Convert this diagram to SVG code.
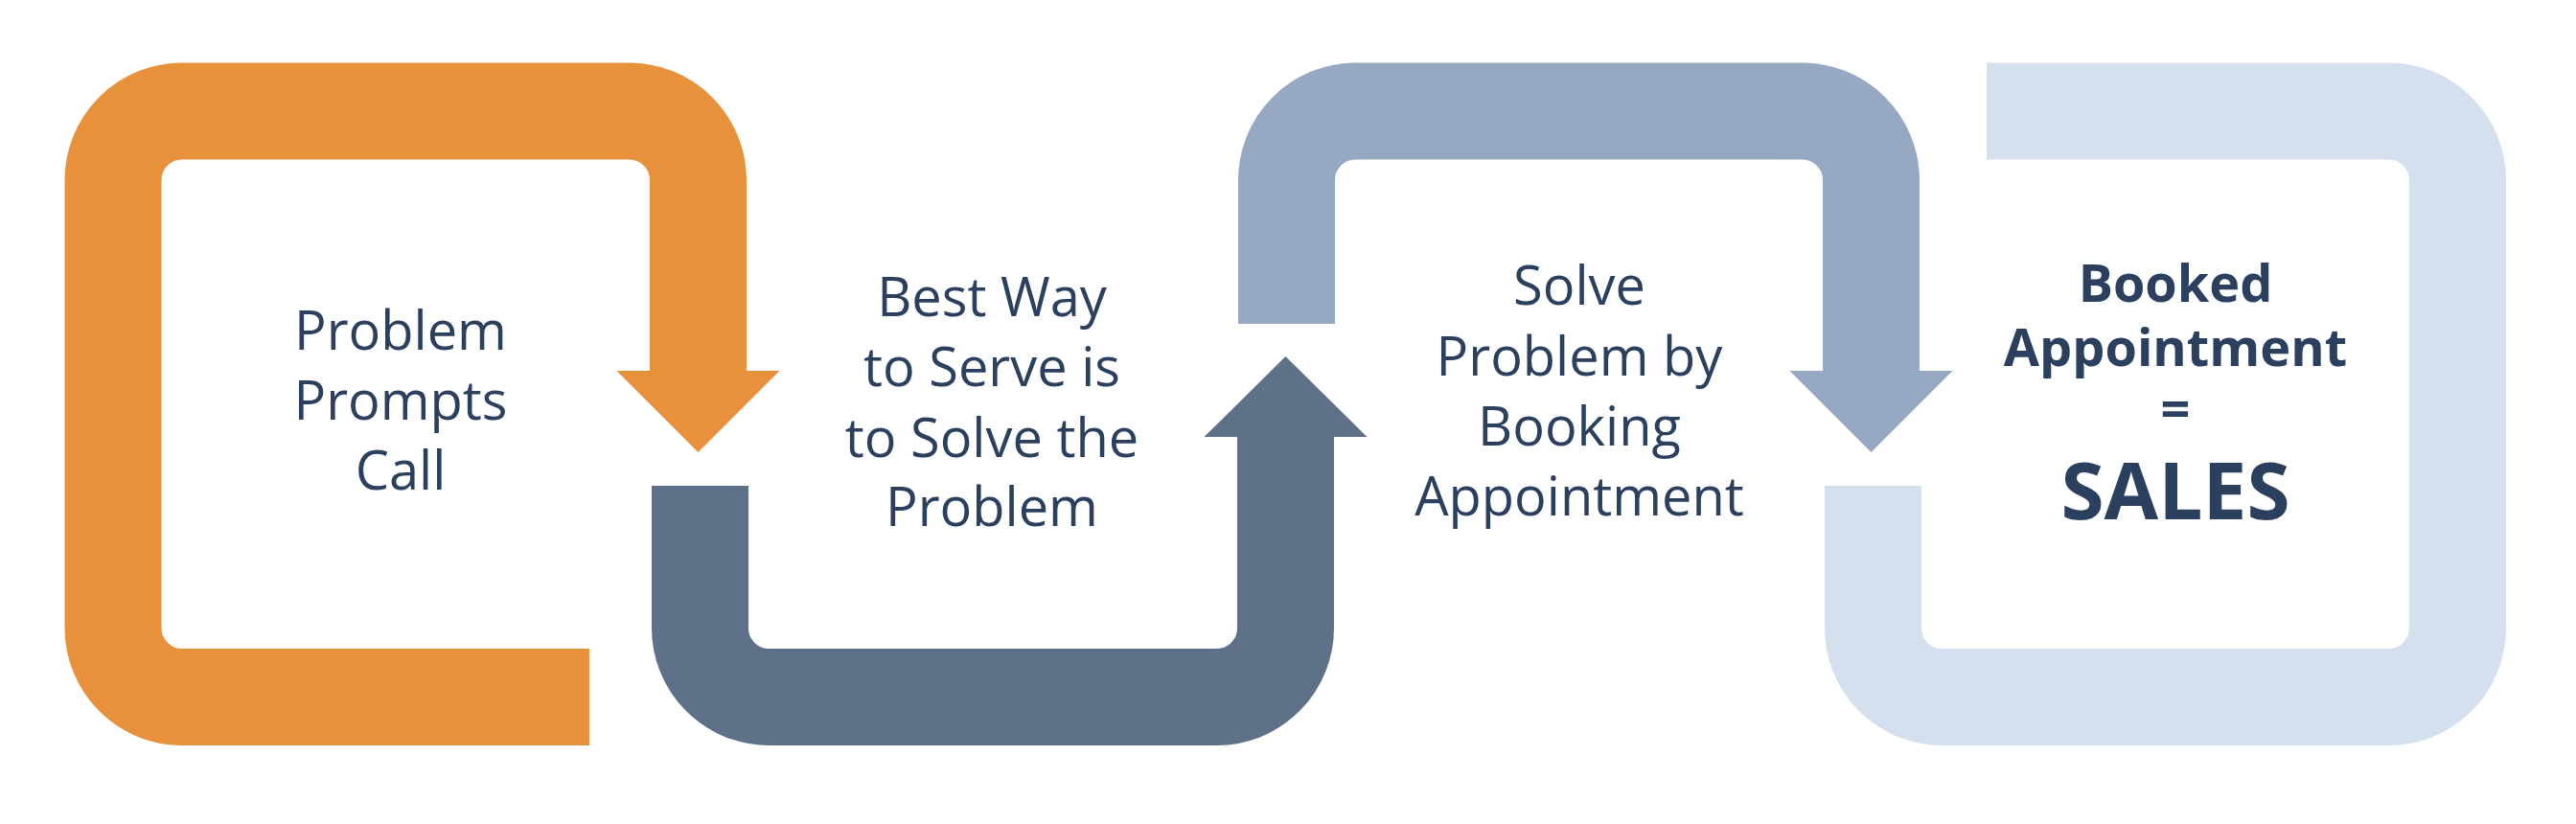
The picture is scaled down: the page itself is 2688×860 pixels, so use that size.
<svg xmlns="http://www.w3.org/2000/svg" width="2688" height="860" viewBox="0 0 2688 860">
<style>
.band{fill:none;stroke-width:101;stroke-linecap:butt;stroke-linejoin:miter}
.t{font-family:"Open Sans","Noto Sans","Liberation Sans",sans-serif;font-size:56px;fill:#2b3f5f;text-anchor:middle}
.b{font-weight:700;font-size:54px}
</style>
<rect width="2688" height="860" fill="#ffffff"/>
<g id="connectors">
<g id="orange">
<path class="band" stroke="#e8913d" d="M615,727.5 H190 A72,72 0 0 1 118,655.5 V188 A72,72 0 0 1 190,116 H656.5 A72,72 0 0 1 728.5,188 V387.5"/>
<polygon fill="#e8913d" points="643.5,387 813.5,387 728.5,472"/>
</g>
<g id="slate">
<path class="band" stroke="#5f7189" d="M730.5,507 V655.5 A72,72 0 0 0 802.5,727.5 H1269.5 A72,72 0 0 0 1341.5,655.5 V455.5"/>
<polygon fill="#5f7189" points="1256.5,456 1426.5,456 1341.5,372"/>
</g>
<g id="steel">
<path class="band" stroke="#97a9c2" d="M1342.5,338 V188 A72,72 0 0 1 1414.5,116 H1880.5 A72,72 0 0 1 1952.5,188 V387.5"/>
<polygon fill="#97a9c2" points="1867.5,387 2037.5,387 1952.5,472"/>
</g>
<g id="pale">
<path class="band" stroke="#d4e0ee" d="M1954.5,507 V655.5 A72,72 0 0 0 2026.5,727.5 H2492.5 A72,72 0 0 0 2564.5,655.5 V188 A72,72 0 0 0 2492.5,116 H2073"/>
</g>
</g>
<g id="node1">
<text class="t" x="418" y="365">Problem</text>
<text class="t" x="418" y="438">Prompts</text>
<text class="t" x="418" y="511">Call</text>
</g>
<g id="node2">
<text class="t" x="1035" y="330">Best Way</text>
<text class="t" x="1035" y="403">to Serve is</text>
<text class="t" x="1035" y="477">to Solve the</text>
<text class="t" x="1035" y="549">Problem</text>
</g>
<g id="node3">
<text class="t" x="1648" y="318">Solve</text>
<text class="t" x="1648" y="392">Problem by</text>
<text class="t" x="1648" y="465">Booking</text>
<text class="t" x="1648" y="538">Appointment</text>
</g>
<g id="node4">
<text class="t b" x="2270" y="315">Booked</text>
<text class="t b" x="2270" y="382">Appointment</text>
<text class="t b" x="2270" y="446">=</text>
<text class="t b" x="2270" y="542" style="font-size:82px">SALES</text>
</g>
</svg>
